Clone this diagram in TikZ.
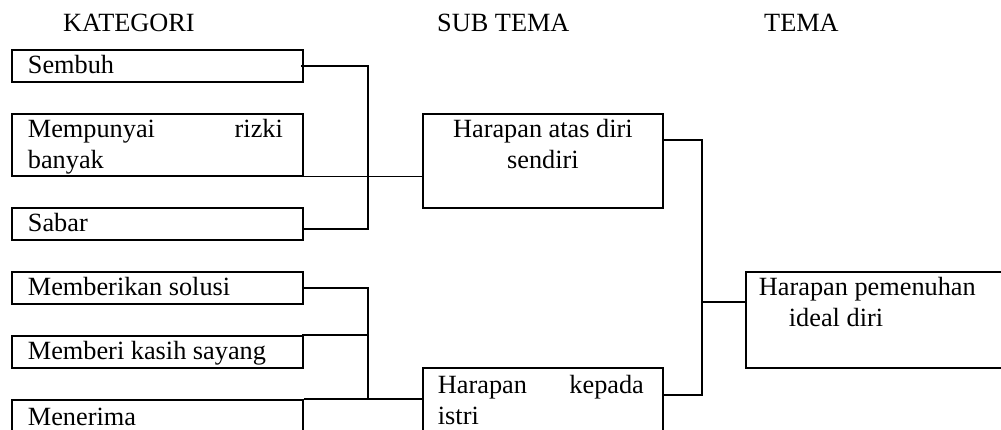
\documentclass[tikz,border=0pt]{standalone}
\usepackage{fontspec}
\setmainfont{Liberation Serif}
\newcommand\bx[3]{\parbox[c][#2][t]{#1}{\baselineskip=31pt\lineskiplimit=-100pt\parindent=0pt #3}}
\tikzset{
  cbox/.style={draw, line width=1.8pt, inner sep=0pt, anchor=north west},
  head/.style={inner sep=0pt, anchor=base west},
  conn/.style={line width=1.3pt}
}
\begin{document}
\begin{tikzpicture}[x=1pt, y=-1pt, font=\fontsize{26.3pt}{31pt}\selectfont]
\useasboundingbox (0,0) rectangle (1001,430);
\clip (0,0) rectangle (1001,430);
\fill[white] (0,0) rectangle (1001,430);

% headers
\node[head] (h1) at (63,32) {KATEGORI};
\node[head] (h2) at (437,32) {SUB TEMA};
\node[head] (h3) at (764,32) {TEMA};

% categories
\node[cbox] (sembuh) at (11,49) {\bx{291pt}{32pt}{\leftskip=16pt\rightskip=20pt plus 1fil\rule{0pt}{24pt}Sembuh}};
\node[cbox] (rizki) at (11,113) {\bx{291pt}{62pt}{\leftskip=16pt\rightskip=20pt plus 1fil\rule{0pt}{24pt}Mempunyai\hfill rizki\\banyak}};
\node[cbox] (sabar) at (11,207) {\bx{291pt}{32pt}{\leftskip=16pt\rightskip=20pt plus 1fil\rule{0pt}{24pt}Sabar}};
\node[cbox] (solusi) at (11,271) {\bx{291pt}{32pt}{\leftskip=16pt\rightskip=20pt plus 1fil\rule{0pt}{24pt}Memberikan solusi}};
\node[cbox] (kasih) at (11,335) {\bx{291pt}{32pt}{\leftskip=16pt\rightskip=0pt plus 1fil\rule{0pt}{24pt}Memberi kasih sayang}};
\node[cbox] (menerima) at (11,399) {\bx{291pt}{50pt}{\leftskip=16pt\rightskip=20pt plus 1fil\rule{0pt}{26pt}Menerima}};

% sub themes
\node[cbox] (atas) at (422,113) {\bx{240pt}{94pt}{\centering\rule{0pt}{24pt}Harapan atas diri\\sendiri\par}};
\node[cbox] (kepada) at (422,367) {\bx{240pt}{80pt}{\leftskip=15pt\rightskip=19pt plus 1fil\rule{0pt}{26pt}Harapan\hfill kepada\\istri}};

% theme
\node[cbox] (ideal) at (745,271) {\bx{265pt}{96pt}{\leftskip=13pt\rightskip=0pt plus 1fil\rule{0pt}{24pt}Harapan pemenuhan\\\hspace*{30pt}ideal diri}};

% bracket columns
\coordinate (b1) at (368,0);
\coordinate (b2) at (702,0);

% connectors
\draw[conn] ([xshift=-3pt]sembuh.east) -- (sembuh.east -| b1) |- ([yshift=-5pt]sabar.east);
\draw[conn] (rizki.south east) -- (rizki.south east -| atas.west);
\draw[conn] ([xshift=-2pt]solusi.east) -- (solusi.east -| b1) |- (menerima.north east);
\draw[conn] ([xshift=-2pt]kasih.north east) -- (kasih.north east -| b1);
\draw[conn] (menerima.north east) -- (menerima.north east -| kepada.west);
\draw[conn] ([yshift=-27pt]atas.north east) -- ([yshift=-27pt]atas.north east -| b2) -- ([yshift=-28pt]kepada.north east -| b2) -- ([yshift=-28pt]kepada.north east);
\draw[conn] ([yshift=18pt]ideal.west) -- ([yshift=18pt]ideal.west -| b2);
\end{tikzpicture}
\end{document}
